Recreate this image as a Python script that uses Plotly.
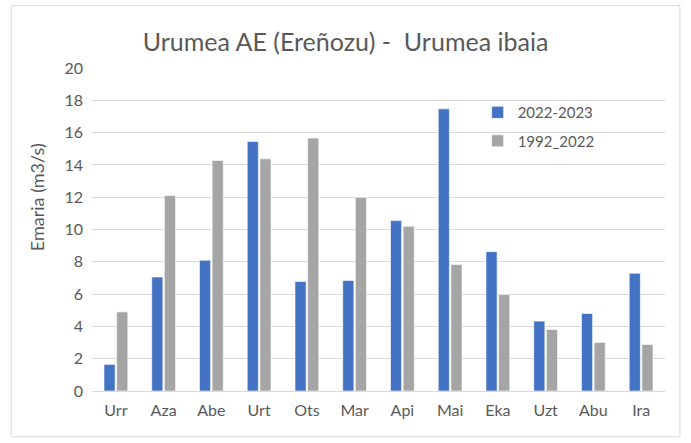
import plotly.graph_objects as go

months = ["Urr", "Aza", "Abe", "Urt", "Ots", "Mar", "Api", "Mai", "Eka", "Uzt", "Abu", "Ira"]
s_2022_2023 = [1.65, 7.06, 8.1, 15.45, 6.78, 6.84, 10.55, 17.47, 8.63, 4.33, 4.8, 7.29]
s_1992_2022 = [4.9, 12.1, 14.28, 14.38, 15.66, 11.99, 10.2, 7.83, 5.97, 3.81, 3.01, 2.88]
y_ticks = [0, 2, 4, 6, 8, 10, 12, 14, 16, 18, 20]
y_title = "Emaria (m3/s)"

FONT = "Lato, 'Open Sans', sans-serif"
TXT = "#595959"

fig = go.Figure()
fig.add_trace(go.Bar(x=months, y=s_2022_2023, name="2022-2023",
                     marker=dict(color="#4472C4", line=dict(color="white", width=0.6)),
                     legendgroup="a"))
fig.add_trace(go.Bar(x=months, y=s_1992_2022, name="1992_2022",
                     marker=dict(color="#A5A5A5", line=dict(color="white", width=0.6)),
                     legendgroup="b"))

fig.update_layout(
    width=691, height=443,
    margin=dict(l=92, r=26, t=67.5, b=52),
    paper_bgcolor="white", plot_bgcolor="white",
    font=dict(family=FONT, color=TXT, size=15),
    title=dict(text="Urumea AE (Ereñozu) -  Urumea ibaia", x=0.5, xanchor="center",
               y=0.905, yanchor="middle", font=dict(size=25, color=TXT, family=FONT)),
    barmode="group", bargap=0.47, bargroupgap=0.12,
    showlegend=True,
    legend=dict(x=0.673, y=0.913, xanchor="left", yanchor="top", bgcolor="rgba(0,0,0,0)",
                font=dict(size=15, color=TXT), tracegroupgap=6, itemwidth=30),
    xaxis=dict(showgrid=False, showline=False, ticks="", tickfont=dict(size=16, color=TXT),
               ticklabelstandoff=8),
    yaxis=dict(range=[0, 20], tickvals=y_ticks, showgrid=True, gridcolor="#D9D9D9",
               gridwidth=1.2, zeroline=True, zerolinecolor="#D9D9D9", zerolinewidth=1.2,
               showline=False, ticks="", tickfont=dict(size=16, color=TXT),
               ticklabelstandoff=8),
    annotations=[dict(text=y_title, xref="paper", yref="paper", x=-0.096, y=0.6,
                      xanchor="center", yanchor="middle", textangle=-90, showarrow=False,
                      font=dict(size=18, color=TXT, family=FONT))],
    shapes=[dict(type="rect", xref="paper", yref="paper",
                 x0=-0.141, x1=1.026, y0=-0.142, y1=1.193,
                 line=dict(color="#D9D9D9", width=1), fillcolor="rgba(0,0,0,0)", layer="below")],
)

fig.write_html("out.html", config={"displayModeBar": False},
               post_script="document.body.style.margin='0px';document.body.style.overflow='hidden';")
